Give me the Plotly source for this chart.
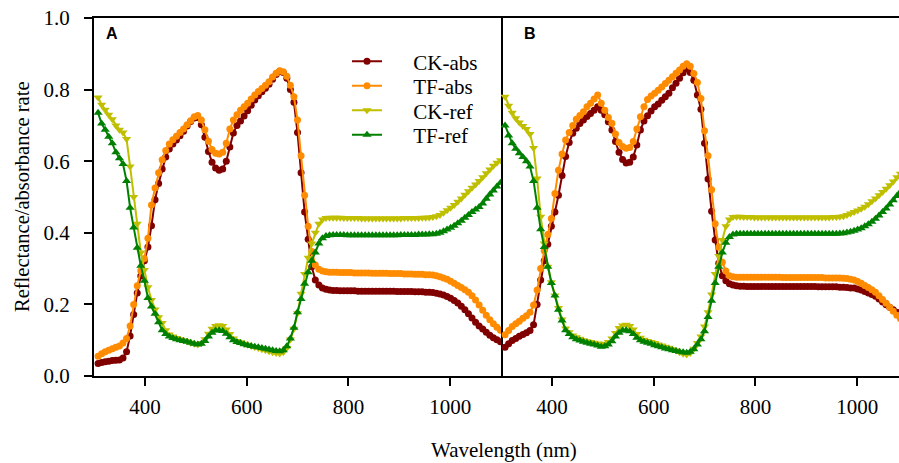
import plotly.graph_objects as go

wavelength = [
    308, 315, 322, 329, 336, 343, 350, 357, 364, 371,
    378, 385, 392, 399, 406, 413, 420, 427, 434, 441,
    448, 455, 462, 469, 476, 483, 490, 497, 504, 511,
    518, 525, 532, 539, 546, 553, 560, 567, 574, 581,
    588, 595, 602, 609, 616, 623, 630, 637, 644, 651,
    658, 665, 672, 679, 686, 693, 700, 707, 714, 721,
    728, 735, 742, 749, 756, 763, 770, 777, 784, 791,
    798, 805, 812, 819, 826, 833, 840, 847, 854, 861,
    868, 875, 882, 889, 896, 903, 910, 917, 924, 931,
    938, 945, 952, 959, 966, 973, 980, 987, 994, 1001,
    1008, 1015, 1022, 1029, 1036, 1043, 1050, 1057, 1064, 1071,
    1078, 1085, 1092, 1099,
]

# ---------------- Panel A ----------------
ck_abs_A = [
    0.035, 0.038, 0.040, 0.041, 0.043, 0.044, 0.045, 0.050, 0.068, 0.112,
    0.172, 0.232, 0.279, 0.322, 0.360, 0.420, 0.492, 0.538, 0.578, 0.612,
    0.634, 0.648, 0.659, 0.671, 0.684, 0.698, 0.711, 0.721, 0.722, 0.702,
    0.667, 0.627, 0.597, 0.581, 0.575, 0.578, 0.600, 0.640, 0.679, 0.700,
    0.712, 0.726, 0.741, 0.756, 0.771, 0.783, 0.794, 0.804, 0.815, 0.829,
    0.842, 0.851, 0.848, 0.832, 0.800, 0.765, 0.680, 0.568, 0.458, 0.382,
    0.305, 0.268, 0.254, 0.246, 0.242, 0.240, 0.239, 0.239, 0.238, 0.238,
    0.238, 0.238, 0.238, 0.237, 0.237, 0.237, 0.237, 0.237, 0.237, 0.237,
    0.237, 0.237, 0.237, 0.237, 0.236, 0.236, 0.236, 0.236, 0.236, 0.235,
    0.235, 0.235, 0.234, 0.234, 0.233, 0.231, 0.229, 0.226, 0.222, 0.217,
    0.211, 0.204, 0.195, 0.185, 0.174, 0.162, 0.150, 0.140, 0.131, 0.122,
    0.114, 0.107, 0.101, 0.096,
]
tf_abs_A = [
    0.055, 0.062, 0.068, 0.072, 0.076, 0.080, 0.084, 0.092, 0.105, 0.140,
    0.200, 0.252, 0.294, 0.328, 0.385, 0.478, 0.525, 0.568, 0.604, 0.630,
    0.648, 0.660, 0.670, 0.680, 0.690, 0.702, 0.713, 0.724, 0.728, 0.715,
    0.688, 0.656, 0.633, 0.622, 0.620, 0.625, 0.650, 0.690, 0.715, 0.730,
    0.742, 0.752, 0.762, 0.774, 0.785, 0.795, 0.803, 0.812, 0.822, 0.835,
    0.846, 0.853, 0.850, 0.837, 0.812, 0.780, 0.715, 0.615, 0.505, 0.418,
    0.348, 0.310, 0.298, 0.293, 0.291, 0.290, 0.290, 0.290, 0.289, 0.289,
    0.289, 0.289, 0.288, 0.288, 0.288, 0.288, 0.288, 0.287, 0.287, 0.287,
    0.287, 0.287, 0.286, 0.286, 0.286, 0.286, 0.285, 0.285, 0.285, 0.284,
    0.284, 0.284, 0.283, 0.283, 0.282, 0.280, 0.277, 0.274, 0.270, 0.265,
    0.259, 0.253, 0.247, 0.241, 0.234, 0.224, 0.212, 0.198, 0.184, 0.170,
    0.157, 0.146, 0.136, 0.128,
]
ck_ref_A = [
    0.778, 0.758, 0.744, 0.730, 0.717, 0.700, 0.688, 0.680, 0.662, 0.585,
    0.500, 0.425, 0.345, 0.296, 0.248, 0.212, 0.186, 0.164, 0.148, 0.128,
    0.116, 0.110, 0.106, 0.103, 0.100, 0.097, 0.093, 0.090, 0.088, 0.092,
    0.103, 0.118, 0.132, 0.140, 0.142, 0.140, 0.130, 0.117, 0.105, 0.098,
    0.094, 0.090, 0.087, 0.084, 0.081, 0.078, 0.075, 0.072, 0.069, 0.066,
    0.064, 0.063, 0.066, 0.078, 0.102, 0.132, 0.175, 0.230, 0.285, 0.330,
    0.370, 0.400, 0.425, 0.437, 0.441, 0.442, 0.442, 0.442, 0.442, 0.441,
    0.441, 0.441, 0.441, 0.441, 0.440, 0.440, 0.440, 0.440, 0.440, 0.440,
    0.440, 0.440, 0.440, 0.440, 0.440, 0.440, 0.441, 0.441, 0.441, 0.441,
    0.441, 0.442, 0.442, 0.443, 0.444, 0.446, 0.450, 0.456, 0.463, 0.470,
    0.478, 0.487, 0.496, 0.506, 0.516, 0.526, 0.535, 0.545, 0.555, 0.566,
    0.577, 0.587, 0.596, 0.603,
]
tf_ref_A = [
    0.735, 0.705, 0.688, 0.668, 0.650, 0.625, 0.608, 0.592, 0.545, 0.470,
    0.415, 0.358, 0.308, 0.266, 0.218, 0.194, 0.174, 0.150, 0.128, 0.117,
    0.110, 0.106, 0.103, 0.100, 0.098, 0.096, 0.093, 0.090, 0.088, 0.090,
    0.098, 0.110, 0.121, 0.127, 0.128, 0.126, 0.118, 0.108, 0.100, 0.095,
    0.092, 0.089, 0.086, 0.084, 0.082, 0.080, 0.078, 0.076, 0.074, 0.072,
    0.070, 0.069, 0.072, 0.083, 0.105, 0.135, 0.178, 0.215, 0.258, 0.290,
    0.322, 0.345, 0.370, 0.385, 0.391, 0.393, 0.394, 0.394, 0.394, 0.394,
    0.393, 0.393, 0.393, 0.393, 0.393, 0.393, 0.393, 0.393, 0.393, 0.393,
    0.393, 0.393, 0.393, 0.393, 0.393, 0.394, 0.394, 0.394, 0.394, 0.394,
    0.395, 0.395, 0.395, 0.396, 0.396, 0.397, 0.400, 0.404, 0.409, 0.414,
    0.420, 0.427, 0.434, 0.442, 0.450, 0.458, 0.465, 0.472, 0.482, 0.495,
    0.507, 0.518, 0.529, 0.540,
]

# ---------------- Panel B ----------------
ck_abs_B = [
    0.080, 0.090, 0.099, 0.105, 0.111, 0.116, 0.121, 0.127, 0.143, 0.200,
    0.268, 0.322, 0.368, 0.418, 0.458, 0.505, 0.560, 0.613, 0.652, 0.678,
    0.692, 0.705, 0.715, 0.725, 0.733, 0.742, 0.752, 0.742, 0.730, 0.710,
    0.687, 0.655, 0.625, 0.605, 0.595, 0.597, 0.612, 0.645, 0.687, 0.712,
    0.727, 0.740, 0.752, 0.760, 0.770, 0.780, 0.790, 0.805, 0.818, 0.832,
    0.847, 0.858, 0.848, 0.826, 0.785, 0.745, 0.650, 0.550, 0.460, 0.380,
    0.315, 0.280, 0.266, 0.258, 0.254, 0.252, 0.251, 0.251, 0.250, 0.250,
    0.250, 0.250, 0.250, 0.250, 0.250, 0.250, 0.250, 0.250, 0.250, 0.250,
    0.250, 0.250, 0.250, 0.250, 0.250, 0.250, 0.250, 0.250, 0.249, 0.249,
    0.249, 0.249, 0.249, 0.249, 0.248, 0.248, 0.247, 0.246, 0.246, 0.243,
    0.240, 0.236, 0.232, 0.228, 0.223, 0.215, 0.207, 0.199, 0.192, 0.185,
    0.178, 0.171,
]
tf_abs_B = [
    0.115, 0.127, 0.138, 0.146, 0.153, 0.161, 0.168, 0.178, 0.198, 0.240,
    0.300, 0.350, 0.395, 0.440, 0.510, 0.575, 0.620, 0.659, 0.680, 0.700,
    0.717, 0.728, 0.738, 0.752, 0.762, 0.774, 0.785, 0.762, 0.742, 0.722,
    0.706, 0.676, 0.652, 0.641, 0.636, 0.638, 0.655, 0.690, 0.724, 0.752,
    0.772, 0.782, 0.790, 0.798, 0.807, 0.817, 0.826, 0.836, 0.846, 0.855,
    0.865, 0.872, 0.865, 0.845, 0.820, 0.775, 0.685, 0.615, 0.520, 0.425,
    0.360, 0.318, 0.293, 0.280, 0.277, 0.276, 0.276, 0.276, 0.276, 0.276,
    0.276, 0.276, 0.276, 0.276, 0.276, 0.276, 0.276, 0.276, 0.275, 0.275,
    0.275, 0.275, 0.275, 0.275, 0.275, 0.275, 0.275, 0.275, 0.275, 0.275,
    0.274, 0.274, 0.274, 0.274, 0.274, 0.273, 0.272, 0.270, 0.268, 0.264,
    0.259, 0.253, 0.247, 0.241, 0.234, 0.224, 0.214, 0.203, 0.192, 0.181,
    0.170, 0.160,
]
ck_ref_B = [
    0.780, 0.755, 0.735, 0.720, 0.708, 0.698, 0.690, 0.676, 0.637, 0.552,
    0.445, 0.370, 0.305, 0.262, 0.225, 0.190, 0.158, 0.133, 0.122, 0.113,
    0.108, 0.104, 0.100, 0.097, 0.095, 0.093, 0.091, 0.089, 0.090, 0.095,
    0.105, 0.120, 0.134, 0.141, 0.143, 0.140, 0.130, 0.117, 0.107, 0.101,
    0.098, 0.095, 0.092, 0.088, 0.085, 0.082, 0.079, 0.075, 0.071, 0.066,
    0.062, 0.060, 0.064, 0.076, 0.092, 0.110, 0.138, 0.178, 0.228, 0.285,
    0.335, 0.380, 0.418, 0.437, 0.444, 0.445, 0.445, 0.444, 0.444, 0.444,
    0.443, 0.443, 0.443, 0.443, 0.443, 0.443, 0.443, 0.443, 0.443, 0.443,
    0.443, 0.443, 0.443, 0.443, 0.443, 0.443, 0.443, 0.443, 0.443, 0.443,
    0.443, 0.443, 0.444, 0.444, 0.445, 0.446, 0.450, 0.454, 0.458, 0.462,
    0.467, 0.473, 0.480, 0.488, 0.496, 0.505, 0.514, 0.523, 0.533, 0.543,
    0.555, 0.565,
]
tf_ref_B = [
    0.700, 0.672, 0.650, 0.635, 0.622, 0.612, 0.600, 0.585, 0.545, 0.470,
    0.410, 0.360, 0.305, 0.260, 0.225, 0.185, 0.155, 0.128, 0.117, 0.108,
    0.103, 0.099, 0.096, 0.093, 0.090, 0.088, 0.085, 0.082, 0.083, 0.088,
    0.097, 0.110, 0.121, 0.127, 0.128, 0.125, 0.117, 0.107, 0.100, 0.096,
    0.093, 0.090, 0.086, 0.083, 0.080, 0.077, 0.075, 0.072, 0.070, 0.068,
    0.066, 0.065, 0.068, 0.075, 0.088, 0.103, 0.125, 0.165, 0.210, 0.260,
    0.305, 0.345, 0.372, 0.388, 0.395, 0.397, 0.397, 0.397, 0.397, 0.397,
    0.397, 0.397, 0.397, 0.397, 0.397, 0.397, 0.397, 0.397, 0.397, 0.397,
    0.397, 0.397, 0.397, 0.397, 0.397, 0.397, 0.397, 0.397, 0.397, 0.397,
    0.397, 0.397, 0.397, 0.397, 0.398, 0.399, 0.401, 0.403, 0.406, 0.409,
    0.413, 0.418, 0.424, 0.431, 0.439, 0.448, 0.458, 0.468, 0.479, 0.491,
    0.503, 0.514,
]

series_names = ["CK-abs", "TF-abs", "CK-ref", "TF-ref"]
series_colors = ["#800000", "#FF8C00", "#BFBF00", "#008000"]
series_symbols = ["circle", "circle", "triangle-down", "triangle-up"]
series_sizes = [7, 7, 8, 8]
panel_A = [ck_abs_A, tf_abs_A, ck_ref_A, tf_ref_A]
panel_B = [ck_abs_B, tf_abs_B, ck_ref_B, tf_ref_B]

y_ticks = [0.0, 0.2, 0.4, 0.6, 0.8, 1.0]
y_tick_labels = ["0.0", "0.2", "0.4", "0.6", "0.8", "1.0"]
x_ticks = [400, 600, 800, 1000]
x_tick_labels = ["400", "600", "800", "1000"]

SERIF = "Liberation Serif"
SANS = "Liberation Sans"

fig = go.Figure()
legend_ids = ["legend", "legend2", "legend3", "legend4"]
for i, name in enumerate(series_names):
    fig.add_trace(go.Scatter(
        x=wavelength[:len(panel_A[i])], y=panel_A[i], mode="lines+markers",
        name="\u00a0" * 5 + name,
        line=dict(color=series_colors[i], width=2),
        marker=dict(symbol=series_symbols[i], size=series_sizes[i], color=series_colors[i]),
        xaxis="x", yaxis="y", legend=legend_ids[i], showlegend=True,
    ))
for i, name in enumerate(series_names):
    fig.add_trace(go.Scatter(
        x=wavelength[:len(panel_B[i])], y=panel_B[i], mode="lines+markers",
        name=name, showlegend=False,
        line=dict(color=series_colors[i], width=2),
        marker=dict(symbol=series_symbols[i], size=series_sizes[i], color=series_colors[i]),
        xaxis="x2", yaxis="y2",
    ))

W, H = 899, 463
L, R, T, B = 94, 0, 18, 87
pw, ph = W - L - R, H - T - B
split = (501 - L) / pw
x_per_px = 800 / (501 - L)
b_max = 300 + (W - 501) * x_per_px

def px_x(p):
    return (p - L) / pw

def px_y(p):
    return (H - B - p) / ph

tick_font = dict(family=SERIF, size=21, color="black")
axis_common = dict(
    showline=True, linewidth=2, linecolor="black", mirror=True,
    ticks="outside", ticklen=8, tickwidth=2, tickcolor="black",
    showgrid=False, zeroline=False,
    tickfont=tick_font,
)

fig.update_layout(
    width=W, height=H,
    margin=dict(l=L, r=R, t=T, b=B),
    font=dict(family=SERIF, size=20, color="black"),
    plot_bgcolor="white", paper_bgcolor="white",
    xaxis=dict(domain=[0, split], range=[300, 1100], tickvals=x_ticks, ticktext=x_tick_labels,
               anchor="y", ticklabelstandoff=3, **axis_common),
    xaxis2=dict(domain=[split, 1], range=[300, b_max], tickvals=x_ticks, ticktext=x_tick_labels,
                anchor="y2", ticklabelstandoff=3, **axis_common),
    yaxis=dict(domain=[0, 1], range=[0, 1], tickvals=y_ticks, ticktext=y_tick_labels,
               anchor="x", ticklabelstandoff=10, **axis_common),
    yaxis2=dict(domain=[0, 1], range=[0, 1], anchor="x2", showline=False,
                showticklabels=False, ticks="", showgrid=False, zeroline=False),
)

legend_rows = [61.7, 86.0, 110.7, 135.0]
for lid, row in zip(legend_ids, legend_rows):
    fig.update_layout({lid: dict(
        x=px_x(347), y=px_y(row), xanchor="left", yanchor="middle",
        bgcolor="rgba(0,0,0,0)", borderwidth=0,
        font=dict(family=SERIF, size=21, color="black"),
    )})

fig.add_annotation(text="A", x=px_x(104), y=px_y(34), xref="paper", yref="paper",
                   xanchor="left", yanchor="middle", showarrow=False,
                   font=dict(family=SANS, size=16, color="black", weight="bold"))
fig.add_annotation(text="B", x=px_x(522), y=px_y(34), xref="paper", yref="paper",
                   xanchor="left", yanchor="middle", showarrow=False,
                   font=dict(family=SANS, size=16, color="black", weight="bold"))
fig.add_annotation(text="Wavelength (nm)", x=px_x(504), y=px_y(450), xref="paper", yref="paper",
                   xanchor="center", yanchor="middle", showarrow=False,
                   font=dict(family=SERIF, size=21, color="black"))
fig.add_annotation(text="Reflectance/absorbance rate", x=px_x(22), y=0.5, xref="paper", yref="paper",
                   xanchor="center", yanchor="middle", showarrow=False, textangle=-90,
                   font=dict(family=SERIF, size=20.5, color="black"))

fig.write_html("out.html", config={"displayModeBar": False})

# remove the browser's default page margin so the figure sits at the window's corner
with open("out.html", "r", encoding="utf-8") as fh:
    page = fh.read()
page = page.replace("<head>", "<head><style>html,body{margin:0;padding:0;}</style>", 1)
with open("out.html", "w", encoding="utf-8") as fh:
    fh.write(page)
